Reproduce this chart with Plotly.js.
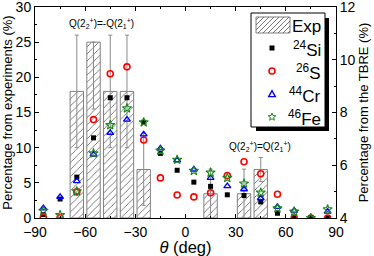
<!DOCTYPE html>
<html>
<head>
<meta charset="utf-8">
<script src="https://cdn.plot.ly/plotly-3.0.1.min.js"></script>
<style>html,body{margin:0;padding:0;background:#fff}#chart{width:374px;height:256px}</style>
</head>
<body>
<div id="chart"></div>
<script>
// Experimental distribution (left axis, %)
const expTheta = [-65, -55, -45, -35, -25, 15, 35, 45];
const expValue = [18, 25, 18, 18, 6.9, 3.45, 3.45, 6.9];
const expErrPlus = [8, 0, 8, 8, 5.1, 3.5, 3.5, 1.7];
const expErrMinus = [8, 9.5, 8, 8, 5.1, 3.5, 3.5, 1.7];

// TBRE distributions (right axis, %)
const theta = [-85, -75, -65, -55, -45, -35, -25, -15, -5, 5, 15, 25, 35, 45, 55, 65, 75, 85];
const si24 = [4.13, 4.72, 5.55, 7.04, 8.56, 8.56, 7.63, 6.45, 5.81, 5.36, 5.20, 4.88, 4.85, 4.61, 4.18, 4.01, 4.0, 4.01];
const s26  = [4.03, 4.01, 4.99, 7.73, 9.47, 9.73, 6.96, 5.52, 4.87, 4.80, 4.96, 5.61, 6.13, 5.68, 4.90, 4.0, 4.0, 4.0];
const cr44 = [4.37, 4.80, 5.40, 6.41, 7.23, 7.73, 7.17, 6.64, 6.19, 5.84, 5.52, 5.21, 5.09, 4.75, 4.42, 4.28, 4.01, 4.24];
const fe46 = [4.27, 4.11, 5.01, 6.45, 7.52, 8.16, 7.63, 6.56, 6.21, 5.79, 5.72, 5.52, 5.31, 4.96, 4.37, 4.24, 4.0, 4.33];

// legend labels
const legendNames = ['Exp', '<sup>24</sup>Si', '<sup>26</sup>S', '<sup>44</sup>Cr', '<sup>46</sup>Fe'];

const FONT = 'Liberation Sans, Arial, sans-serif';
const COLORS = {si: 'black', s: 'red', cr: 'blue', fe: '#1a8a1a'};
const M = {l: 35, r: 38, t: 7, b: 38};
const PW = 374 - M.l - M.r, PH = 256 - M.t - M.b;
const px2x = p => (p - M.l) / PW;
const px2y = p => (256 - M.b - p) / PH;

const traces = [
  {
    type: 'bar', name: legendNames[0], x: expTheta, y: expValue, width: 8,
    marker: {
      color: 'white',
      line: {color: '#808080', width: 1},
      pattern: {shape: '/', fgcolor: '#444', bgcolor: 'white', size: 5, solidity: 0.14}
    },
    error_y: {type: 'data', symmetric: false, array: expErrPlus, arrayminus: expErrMinus,
      color: '#8a8a8a', thickness: 1, width: 2},
    yaxis: 'y'
  },
  {type: 'scatter', mode: 'markers', name: legendNames[1], x: theta, y: si24, yaxis: 'y2',
    marker: {symbol: 'square', size: 5, color: COLORS.si}},
  {type: 'scatter', mode: 'markers', name: legendNames[2], x: theta, y: s26, yaxis: 'y2',
    marker: {symbol: 'circle-open', size: 6, color: COLORS.s, line: {width: 1.6, color: COLORS.s}}},
  {type: 'scatter', mode: 'markers', name: legendNames[3], x: theta, y: cr44, yaxis: 'y2',
    marker: {symbol: 'triangle-up-open', size: 6, color: COLORS.cr, line: {width: 1.4, color: COLORS.cr}}},
  {type: 'scatter', mode: 'markers', name: legendNames[4], x: theta, y: fe46, yaxis: 'y2',
    marker: {symbol: 'star-open', size: 7, color: COLORS.fe, line: {width: 1.1, color: COLORS.fe}}}
];

// ---- hand-drawn legend box (layout decoration, in pixel positions) ----
const LB = {x0: 251, y0: 13, x1: 325, y1: 127};
const rowY = [25, 48, 71, 94, 117];
const symX = 272;
const P = (x, y) => px2x(x).toFixed(5) + ',' + px2y(y).toFixed(5);
const shapes = [];
// shadow
shapes.push({type: 'rect', xref: 'paper', yref: 'paper', x0: px2x(LB.x1), x1: px2x(LB.x1 + 4),
  y0: px2y(LB.y1 + 4), y1: px2y(LB.y0 + 5), fillcolor: 'black', line: {width: 0}, layer: 'above'});
shapes.push({type: 'rect', xref: 'paper', yref: 'paper', x0: px2x(LB.x0 + 5), x1: px2x(LB.x1 + 4),
  y0: px2y(LB.y1 + 4), y1: px2y(LB.y1), fillcolor: 'black', line: {width: 0}, layer: 'above'});
// box
shapes.push({type: 'rect', xref: 'paper', yref: 'paper', x0: px2x(LB.x0), x1: px2x(LB.x1),
  y0: px2y(LB.y1), y1: px2y(LB.y0), fillcolor: 'white', line: {width: 1, color: 'black'}, layer: 'above'});
// hatched swatch
const sw = {x0: 256, x1: 290, y0: 17, y1: 33};
shapes.push({type: 'rect', xref: 'paper', yref: 'paper', x0: px2x(sw.x0), x1: px2x(sw.x1),
  y0: px2y(sw.y1), y1: px2y(sw.y0), fillcolor: 'white', line: {width: 1, color: '#808080'}, layer: 'above'});
let hp = '';
const hh = sw.y1 - sw.y0;
for (let c = sw.x0 - hh + 3; c < sw.x1; c += 5) {
  let xa = c, ya = sw.y1, xb = c + hh, yb = sw.y0;
  if (xa < sw.x0) { ya = sw.y1 - (sw.x0 - xa); xa = sw.x0; }
  if (xb > sw.x1) { yb = sw.y0 + (xb - sw.x1); xb = sw.x1; }
  if (xb - xa < 0.5) continue;
  hp += 'M' + P(xa, ya) + 'L' + P(xb, yb);
}
shapes.push({type: 'path', xref: 'paper', yref: 'paper', path: hp, line: {width: 0.8, color: '#555'}, layer: 'above'});
// square
shapes.push({type: 'rect', xref: 'paper', yref: 'paper', x0: px2x(symX - 2.5), x1: px2x(symX + 2.5),
  y0: px2y(rowY[1] + 2.5), y1: px2y(rowY[1] - 2.5), fillcolor: COLORS.si, line: {width: 0}, layer: 'above'});
// circle
shapes.push({type: 'circle', xref: 'paper', yref: 'paper', x0: px2x(symX - 3), x1: px2x(symX + 3),
  y0: px2y(rowY[2] + 3), y1: px2y(rowY[2] - 3), line: {width: 1.6, color: COLORS.s}, layer: 'above'});
// triangle
shapes.push({type: 'path', xref: 'paper', yref: 'paper',
  path: 'M' + P(symX - 3.3, rowY[3] + 2.6) + 'L' + P(symX + 3.3, rowY[3] + 2.6) + 'L' + P(symX, rowY[3] - 3.4) + 'Z',
  line: {width: 1.4, color: COLORS.cr}, layer: 'above'});
// star
let sp = '';
for (let k = 0; k < 10; k++) {
  const r = k % 2 === 0 ? 4 : 1.7;
  const a = -Math.PI / 2 + k * Math.PI / 5;
  sp += (k === 0 ? 'M' : 'L') + P(symX + r * Math.cos(a), rowY[4] + r * Math.sin(a));
}
shapes.push({type: 'path', xref: 'paper', yref: 'paper', path: sp + 'Z', line: {width: 1, color: COLORS.fe}, layer: 'above'});

const annotations = [
  {x: -50.5, y: 27.6, xref: 'x', yref: 'y', showarrow: false,
   text: 'Q(2<sub>2</sub><sup>+</sup>)=-Q(2<sub>1</sub><sup>+</sup>)', font: {size: 10, family: FONT}},
  {x: 44.6, y: 10.2, xref: 'x', yref: 'y', showarrow: false,
   text: 'Q(2<sub>2</sub><sup>+</sup>)=Q(2<sub>1</sub><sup>+</sup>)', font: {size: 10, family: FONT}}
];
legendNames.forEach((name, i) => {
  annotations.push({x: px2x(323), y: px2y(rowY[i] + 1), xref: 'paper', yref: 'paper',
    xanchor: 'right', yanchor: 'middle', showarrow: false, text: name,
    font: {size: 17, family: FONT, color: 'black'}});
});

const layout = {
  width: 374, height: 256,
  margin: {l: M.l, r: M.r, t: M.t, b: M.b, pad: 0},
  paper_bgcolor: 'white', plot_bgcolor: 'white',
  font: {family: FONT, color: 'black', size: 14},
  showlegend: false,
  bargap: 0,
  xaxis: {
    range: [-90, 90], tickvals: [-90, -60, -30, 0, 30, 60, 90],
    ticks: 'inside', ticklen: 4, tickcolor: 'black',
    minor: {dtick: 15, tick0: -90, ticks: 'inside', ticklen: 2, tickcolor: 'black'},
    showline: true, linecolor: 'black', linewidth: 1, mirror: 'ticks',
    showgrid: false, zeroline: false, automargin: false, ticklabeloverflow: 'allow',
    ticklabelstandoff: 1,
    tickfont: {size: 14, family: FONT},
    title: {text: '<i>θ</i> (deg)', font: {size: 16.5, family: FONT}, standoff: 2}
  },
  yaxis: {
    range: [0, 30], dtick: 5, tick0: 0,
    ticks: 'inside', ticklen: 4, tickcolor: 'black',
    minor: {dtick: 2.5, ticks: 'inside', ticklen: 2, tickcolor: 'black'},
    showline: true, linecolor: 'black', linewidth: 1,
    showgrid: false, zeroline: false, automargin: false, ticklabeloverflow: 'allow',
    tickfont: {size: 14, family: FONT},
    title: {text: 'Percentage from experiments (%)', font: {size: 13, family: FONT}, standoff: 2}
  },
  yaxis2: {
    overlaying: 'y', side: 'right',
    range: [4, 12], dtick: 2, tick0: 4,
    ticks: 'inside', ticklen: 4, tickcolor: 'black',
    minor: {dtick: 1, ticks: 'inside', ticklen: 2, tickcolor: 'black'},
    showline: true, linecolor: 'black', linewidth: 1,
    showgrid: false, zeroline: false, automargin: false, ticklabeloverflow: 'allow',
    tickfont: {size: 14, family: FONT},
    title: {text: 'Percentage from the TBRE (%)', font: {size: 13, family: FONT}, standoff: 4}
  },
  shapes: shapes,
  annotations: annotations
};

Plotly.newPlot('chart', traces, layout, {displayModeBar: false, staticPlot: true});
</script>
</body>
</html>
